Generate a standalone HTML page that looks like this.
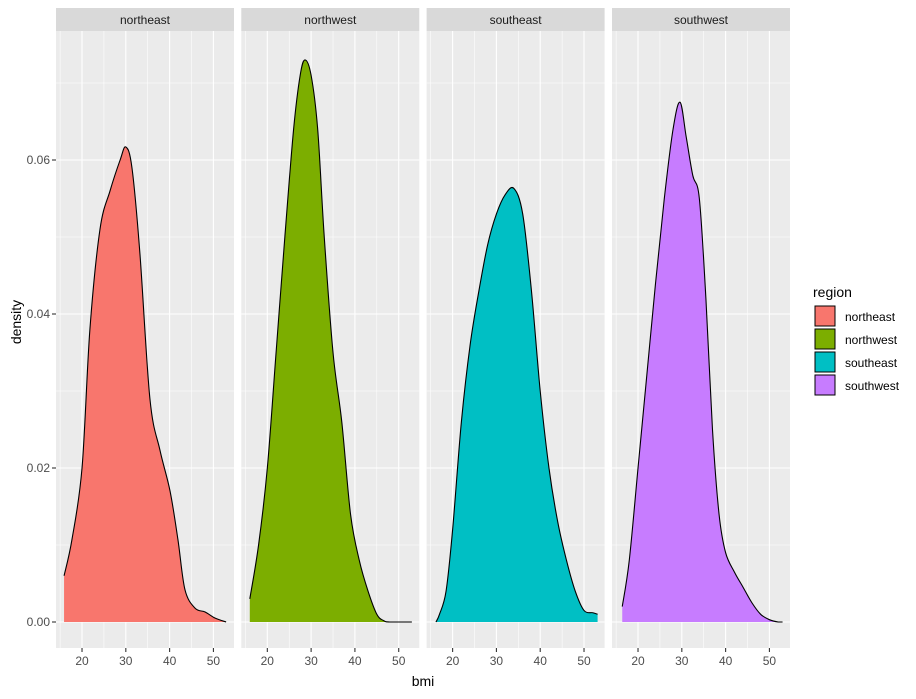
<!DOCTYPE html>
<html><head><meta charset="utf-8"><style>
body{margin:0;background:#fff;font-family:"Liberation Sans",Arial,sans-serif}
</style></head><body>
<svg id="chart" width="916" height="694" xmlns="http://www.w3.org/2000/svg" font-family="Liberation Sans, Arial, sans-serif"></svg>
<script>
const regions = ["northeast","northwest","southeast","southwest"];
const colors = ["#F8766D","#7CAE00","#00BFC4","#C77CFF"];
const yTicks = [0,0.02,0.04,0.06];
const yTickLabels = ["0.00","0.02","0.04","0.06"];
const xTicks = [20,30,40,50];
const neBmi = [15.9,17.7,20,21.8,24.1,26.4,28.7,30,31.4,33.2,35.5,37.8,40.1,41.9,43.5,45.8,48.1,50.4,52.9];
const neDen = [0.006,0.0107,0.02,0.038,0.051,0.056,0.060,0.0617,0.059,0.048,0.029,0.0223,0.017,0.0107,0.0042,0.0018,0.0013,0.0005,0];
const nwBmi = [16,18,20,22,24,26,27.5,28.6,30,31.5,33,35,37,39,41,43,45,46.5,48,53];
const nwDen = [0.003,0.010,0.020,0.035,0.050,0.064,0.071,0.073,0.071,0.064,0.050,0.035,0.026,0.014,0.008,0.004,0.001,0.0002,0,0];
const seBmi = [16.2,17,18.5,20,22,24,26,28,30,32,34,36,38,40,42,44,46,48,50,52,53.1];
const seDen = [0,0.001,0.004,0.012,0.026,0.036,0.043,0.049,0.053,0.0555,0.0563,0.053,0.043,0.030,0.020,0.013,0.008,0.004,0.0015,0.0012,0.001];
const swBmi = [16.4,18,20,22,24,26,28,29.6,31,32.5,34,35.5,37,38.5,40,42,44,46,48,50,52,53];
const swDen = [0.002,0.008,0.020,0.032,0.044,0.055,0.064,0.0675,0.063,0.058,0.055,0.042,0.025,0.014,0.009,0.0065,0.0045,0.0025,0.001,0.0003,0,0];
const seriesX = [neBmi,nwBmi,seBmi,swBmi];
const seriesY = [neDen,nwDen,seDen,swDen];

const NS="http://www.w3.org/2000/svg";
const svg=document.getElementById('chart');
function mk(tag,attrs,parent){const e=document.createElementNS(NS,tag);for(const k in attrs)e.setAttribute(k,attrs[k]);(parent||svg).appendChild(e);return e;}
const panelLeft=[56,241.3,426.6,612], panelW=178, pTop=31, pBot=648;
const xMin=14.06, pxPerUnit=4.38;
function xs(p,v){return panelLeft[p]+(v-xMin)*pxPerUnit;}
function ys(v){return 622-v*7700;}
function smooth(pts){
  let s='';
  for(let i=0;i<pts.length-1;i++){
    const p0=pts[Math.max(0,i-1)],p1=pts[i],p2=pts[i+1],p3=pts[Math.min(pts.length-1,i+2)];
    const c1x=p1[0]+(p2[0]-p0[0])/6,c1y=p1[1]+(p2[1]-p0[1])/6;
    const c2x=p2[0]-(p3[0]-p1[0])/6,c2y=p2[1]-(p3[1]-p1[1])/6;
    s+=' C'+c1x.toFixed(2)+','+Math.min(622,c1y).toFixed(2)+' '+c2x.toFixed(2)+','+Math.min(622,c2y).toFixed(2)+' '+p2[0].toFixed(2)+','+p2[1].toFixed(2);
  }
  return s;
}

for(let p=0;p<4;p++){
  const g=mk('g',{});
  
  
  const strip=mk('rect',{x:panelLeft[p],y:8,width:panelW,height:23,fill:'#D9D9D9'},g);
  
  
  const st=mk('text',{x:panelLeft[p]+panelW/2,y:24,'text-anchor':'middle','font-size':12,fill:'#1A1A1A'},g);
  st.textContent=regions[p];
  
  
  const bg=mk('rect',{x:panelLeft[p],y:pTop,width:panelW,height:pBot-pTop,fill:'#EBEBEB'},g);
  
  
  [0.01,0.03,0.05,0.07].forEach(v=>mk('line',{x1:panelLeft[p],x2:panelLeft[p]+panelW,y1:ys(v),y2:ys(v),stroke:'#fff','stroke-width':0.55},g));
  [15,25,35,45,55].forEach(v=>{const x=xs(p,v);if(x<panelLeft[p]+panelW)mk('line',{x1:x,x2:x,y1:pTop,y2:pBot,stroke:'#fff','stroke-width':0.55},g);});
  yTicks.forEach(v=>mk('line',{x1:panelLeft[p],x2:panelLeft[p]+panelW,y1:ys(v),y2:ys(v),stroke:'#fff','stroke-width':1.1},g));
  xTicks.forEach(v=>mk('line',{x1:xs(p,v),x2:xs(p,v),y1:pTop,y2:pBot,stroke:'#fff','stroke-width':1.1},g));
  const bx=seriesX[p], by=seriesY[p];
  const pts=bx.map((v,i)=>[xs(p,v),ys(by[i])]);
  const top='M'+pts[0][0]+','+pts[0][1]+smooth(pts);
  const d='M'+pts[0][0]+','+ys(0)+' L'+pts[0][0]+','+pts[0][1]+smooth(pts)+' L'+pts[pts.length-1][0]+','+ys(0)+' Z';
  const area=mk('path',{d:d,fill:colors[p],stroke:'none'},g);
  
  
  const line=mk('path',{d:top,fill:'none',stroke:'#000','stroke-width':1.1,'stroke-linejoin':'round'},g);
  
  
  xTicks.forEach(v=>{
    mk('line',{x1:xs(p,v),x2:xs(p,v),y1:pBot,y2:pBot+4,stroke:'#333','stroke-width':1.1},g);
    const t=mk('text',{x:xs(p,v),y:665,'text-anchor':'middle','font-size':12,fill:'#4D4D4D'},g);
    t.textContent=v;
    
    
  });
}
yTicks.forEach((v,i)=>{
  mk('line',{x1:52,x2:56,y1:ys(v),y2:ys(v),stroke:'#333','stroke-width':1.1});
  const t=mk('text',{x:50,y:ys(v)+4,'text-anchor':'end','font-size':12,fill:'#4D4D4D'});
  t.textContent=yTickLabels[i];
  
  
});
const yt=mk('text',{x:21,y:322,'text-anchor':'middle','font-size':14,fill:'#000',transform:'rotate(-90 21 322)'});
yt.textContent='density';


const xt=mk('text',{x:423,y:686,'text-anchor':'middle','font-size':14,fill:'#000'});
xt.textContent='bmi';


const lt=mk('text',{x:813,y:297,'font-size':14,fill:'#000'});
lt.textContent='region';


regions.forEach((r,i)=>{
  const y=306+i*23;
  const k=mk('rect',{x:815,y:y,width:20,height:20,fill:colors[i],stroke:'#000','stroke-width':1});
  
  
  const t=mk('text',{x:845,y:y+15,'font-size':12,fill:'#000'});
  t.textContent=r;
  
  
});
</script>
</body></html>
